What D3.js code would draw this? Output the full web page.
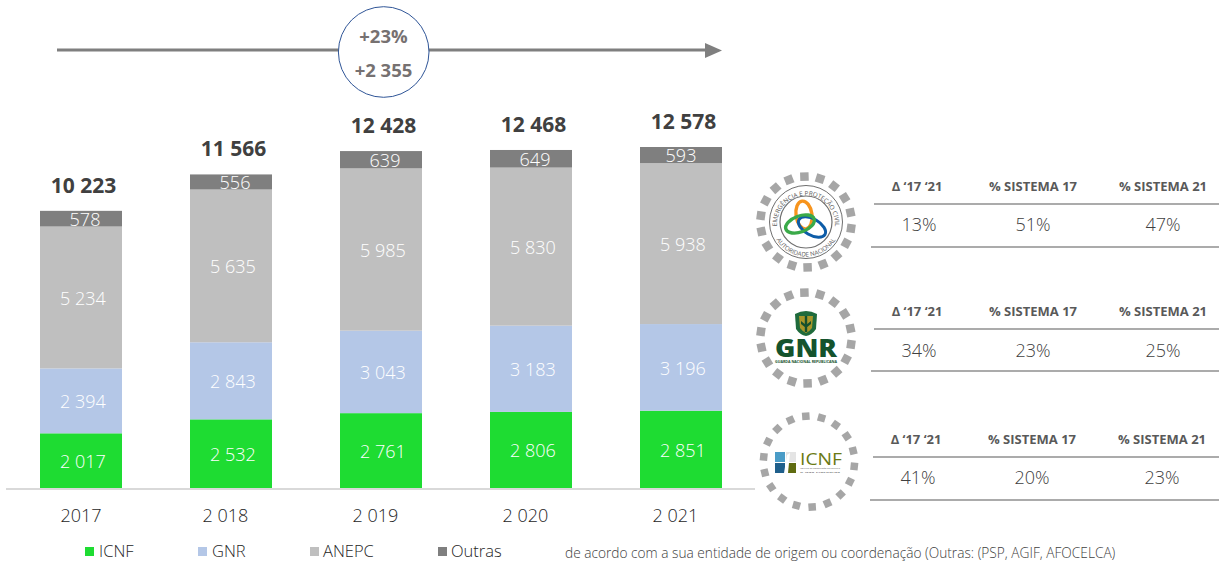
<!DOCTYPE html>
<html><head><meta charset="utf-8">
<script src="https://cdn.jsdelivr.net/npm/d3@7/dist/d3.min.js"></script>
<style>html,body{margin:0;padding:0;background:#fff}svg{display:block}text{font-family:"Open Sans",sans-serif}</style>
</head><body><svg id="c" width="1219" height="561"></svg>
<script>
const years = ["2017","2 018","2 019","2 020","2 021"];
const seriesNames = ["ICNF","GNR","ANEPC","Outras"];
const icnf = [2017,2532,2761,2806,2851];
const gnr = [2394,2843,3043,3183,3196];
const anepc = [5234,5635,5985,5830,5938];
const outras = [578,556,639,649,593];
const totals = [10223,11566,12428,12468,12578];
const colors = ["#1edc32","#b4c7e7","#bfbfbf","#7f7f7f"];
const tableHeaders = ["Δ ‘17 ‘21","% SISTEMA 17","% SISTEMA 21"];
const tableAnepc = ["13%","51%","47%"];
const tableGnr = ["34%","23%","25%"];
const tableIcnf = ["41%","20%","23%"];
const growthPct = "+23%";
const growthAbs = "+2 355";
const footnote = "de acordo com a sua entidade de origem ou coordenação (Outras: (PSP, AGIF, AFOCELCA)";

const fmt = v => String(v).replace(/\B(?=(\d{3})+$)/g," ");
const svg = d3.select("#c");
const x = d3.scaleBand().domain(years).range([6,756]).paddingInner(68/150).paddingOuter(34/150);
const y = d3.scaleLinear().domain([0,12578]).range([488,147]);
const matrix = [icnf,gnr,anepc,outras];
const layers = d3.stack().keys([0,1,2,3]).value((d,k)=>matrix[k][d])(d3.range(years.length));

svg.append("line").attr("x1",6).attr("x2",755).attr("y1",489).attr("y2",489).attr("stroke","#d9d9d9").attr("stroke-width",2);

layers.forEach((l,k)=>{
  const g = svg.append("g");
  g.selectAll("rect").data(l).join("rect")
    .attr("x",(d,i)=>x(years[i])).attr("width",x.bandwidth())
    .attr("y",d=>y(d[1])).attr("height",d=>y(d[0])-y(d[1]))
    .attr("fill",colors[k]);
  g.selectAll("text").data(l).join("text")
    .attr("x",(d,i)=>x(years[i])+(k==3?(i==4?41:45):43))
    .attr("y",d=>(y(d[0])+y(d[1]))/2+7.2)
    .attr("text-anchor","middle").attr("font-size",18).attr("font-weight",300).attr("fill","#fff")
    .text((d,i)=>fmt(matrix[k][i]));
});
svg.append("g").selectAll("text").data(totals).join("text")
  .attr("x",(d,i)=>x(years[i])+43.5).attr("y",d=>y(d)-18)
  .attr("text-anchor","middle").attr("font-size",21).attr("font-weight",700).attr("fill","#404040")
  .text(fmt);
svg.append("g").selectAll("text").data(years).join("text")
  .attr("x",(d,i)=>x(d)+(i==0?41:35.5)).attr("y",522)
  .attr("text-anchor","middle").attr("font-size",18).attr("font-weight",300).attr("fill","#262626").text(d=>d);

svg.append("line").attr("x1",57).attr("x2",706).attr("y1",50).attr("y2",50).attr("stroke","#7f7f7f").attr("stroke-width",3);
svg.append("path").attr("d","M705,43L722,50.5L705,58Z").attr("fill","#7f7f7f");
svg.append("circle").attr("cx",383.7).attr("cy",52).attr("r",45.3).attr("fill","#fff").attr("stroke","#2f5597").attr("stroke-width",1);
svg.append("text").attr("x",383.5).attr("y",43).attr("text-anchor","middle").attr("font-size",18.5).attr("font-weight",700).attr("fill","#767171").text(growthPct);
svg.append("text").attr("x",383.5).attr("y",77).attr("text-anchor","middle").attr("font-size",18.5).attr("font-weight",700).attr("fill","#767171").text(growthAbs);

const legX=[85,198,310,438], legT=[99,212,323,451];
seriesNames.forEach((s,i)=>{
  svg.append("rect").attr("x",legX[i]).attr("y",547).attr("width",9).attr("height",9).attr("fill",colors[i]);
  svg.append("text").attr("x",legT[i]).attr("y",557).attr("font-size",16.5).attr("font-weight",300).attr("fill","#262626").text(s);
});
svg.append("text").attr("x",565).attr("y",557.5).attr("font-size",13.7).attr("font-weight",300).attr("fill","#404040").text(footnote);

function table(vals,hy,l1,l2,x0,x1,dx,vy){
  const cols=[917+dx,1033+dx,1163+dx];
  tableHeaders.forEach((h,i)=>svg.append("text").attr("x",cols[i]).attr("y",hy).attr("text-anchor","middle")
    .attr("font-size",13).attr("font-weight",700).attr("fill","#595959").text(h));
  svg.append("line").attr("x1",x0).attr("x2",1219).attr("y1",l1).attr("y2",l1).attr("stroke","#595959").attr("stroke-width",1.2);
  svg.append("line").attr("x1",x1).attr("x2",1219).attr("y1",l2).attr("y2",l2).attr("stroke","#595959").attr("stroke-width",1.2);
  vals.forEach((v,i)=>svg.append("text").attr("x",cols[i]+(i==0?2:0)).attr("y",vy).attr("text-anchor","middle")
    .attr("font-size",18).attr("font-weight",300).attr("fill","#404040").text(v));
}
table(tableAnepc,191,204,247,874,871,0,231);
table(tableGnr,316,329,371,874,871,0,357);
table(tableIcnf,444,457,500,873,870,-1,484);

function ring(cx,cy,rot,s){
  const n=18,g=svg.append("g");
  d3.range(n).forEach(i=>{
    g.append("rect").attr("x",-s/2).attr("y",-s/2).attr("width",s).attr("height",s).attr("fill","#a6a6a6")
      .attr("transform",`translate(${cx},${cy}) rotate(${rot+i*20}) translate(0,-45.5)`);
  });
}
ring(806,222,-2,8.5); ring(806,338,-2,8.5); ring(809,461.7,-4,7.5);

const a=svg.append("g").attr("transform","translate(806,222)");
a.append("circle").attr("r",36.5).attr("fill","none").attr("stroke","#6f6f6f").attr("stroke-width",1);
a.append("circle").attr("r",26).attr("fill","none").attr("stroke","#6f6f6f").attr("stroke-width",1.2);
const defs=svg.append("defs");
defs.append("path").attr("id","arcT").attr("d","M-28,10A29,29 0 1 1 28,10");
defs.append("path").attr("id","arcB").attr("d","M-32,13A34.5,34.5 0 0 0 32,13");
a.append("text").attr("font-size",6.3).attr("fill","#595959").append("textPath").attr("href","#arcT").attr("startOffset","50%").attr("text-anchor","middle").text("EMERGÊNCIA E PROTEÇÃO CIVIL");
a.append("text").attr("font-size",6.2).attr("fill","#595959").append("textPath").attr("href","#arcB").attr("startOffset","50%").attr("text-anchor","middle").text("AUTORIDADE NACIONAL");
a.append("ellipse").attr("cx",-2).attr("cy",-7).attr("rx",8).attr("ry",14).attr("transform","rotate(-8 -2 -7)").attr("fill","none").attr("stroke","#f7941d").attr("stroke-width",3.4);
a.append("ellipse").attr("cx",6).attr("cy",5).attr("rx",15).attr("ry",8).attr("transform","rotate(30 6 5)").attr("fill","none").attr("stroke","#0d5ca8").attr("stroke-width",3);
a.append("ellipse").attr("cx",-6).attr("cy",2).attr("rx",15).attr("ry",8).attr("transform","rotate(-20 -6 2)").attr("fill","none").attr("stroke","#3aaa49").attr("stroke-width",3.4);

const g=svg.append("g").attr("transform","translate(806,338)");
g.append("path").attr("d","M-11,-24Q0,-30 11,-24L10,-9Q6,-3 0,-2Q-6,-3 -10,-9Z").attr("fill","#1f6b3c");
g.append("path").attr("d","M-7,-22H7L6,-10Q3,-6 0,-5Q-3,-6 -6,-10Z").attr("fill","#a7962a");
g.append("path").attr("d","M-1.2,-22H1.2V-6H-1.2ZM-5,-17L0,-13L5,-17V-14L0,-10L-5,-14Z").attr("fill","#14502c");
g.append("text").attr("x",0).attr("y",19).attr("text-anchor","middle").attr("font-size",25).attr("font-weight",800).attr("fill","#14532d").attr("textLength",62).attr("lengthAdjust","spacingAndGlyphs").text("GNR");
g.append("text").attr("x",0).attr("y",24.5).attr("text-anchor","middle").attr("font-size",3.2).attr("font-weight",700).attr("fill","#14532d").attr("textLength",62).attr("lengthAdjust","spacingAndGlyphs").text("GUARDA NACIONAL REPUBLICANA");

const ic=svg.append("g").attr("transform","translate(775,452)");
ic.append("rect").attr("width",10).attr("height",10).attr("fill","#4a9cc7");
ic.append("rect").attr("y",11).attr("width",10).attr("height",10).attr("fill","#1f5f8b");
ic.append("rect").attr("x",11).attr("width",10).attr("height",10).attr("fill","#e4e4e4");
ic.append("rect").attr("x",12).attr("y",11).attr("width",9).attr("height",10).attr("fill","#5f6b10");
ic.append("path").attr("d","M9,21L12,3L15,1L13,21Z").attr("fill","#fff");
ic.append("text").attr("x",25).attr("y",13).attr("font-size",17).attr("fill","#6b7a14").attr("textLength",42).attr("lengthAdjust","spacingAndGlyphs").text("ICNF");
ic.append("text").attr("x",25).attr("y",17).attr("font-size",2.4).attr("fill","#555").attr("textLength",40).attr("lengthAdjust","spacingAndGlyphs").text("Instituto da Conservação da Natureza");
ic.append("text").attr("x",25).attr("y",20.5).attr("font-size",2.4).attr("fill","#555").attr("textLength",40).attr("lengthAdjust","spacingAndGlyphs").text("e das Florestas");
</script></body></html>
